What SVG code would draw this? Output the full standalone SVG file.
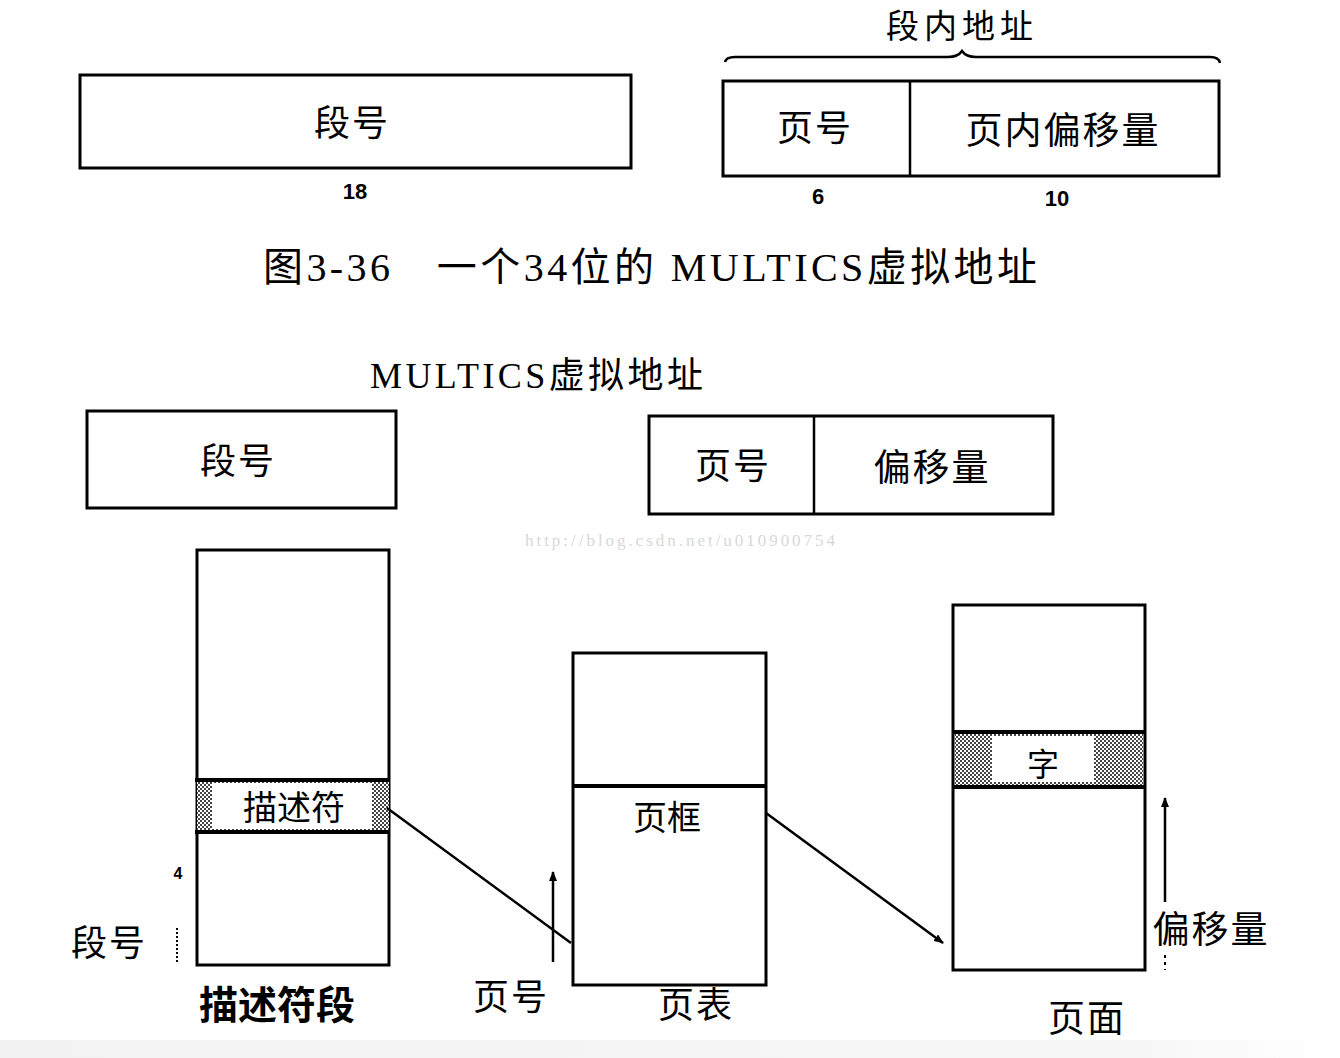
<svg xmlns="http://www.w3.org/2000/svg" width="1340" height="1058" viewBox="0 0 1340 1058">
<defs>
<pattern id="hatch" width="4" height="4" patternUnits="userSpaceOnUse">
<rect width="4" height="4" fill="#fff"/>
<rect width="2" height="2" fill="#444"/>
<rect x="2" y="2" width="2" height="2" fill="#444"/>
</pattern>
<marker id="ah" markerWidth="10" markerHeight="8" refX="9" refY="4" orient="auto" markerUnits="userSpaceOnUse">
<path d="M0,0 L10,4 L0,8 Z" fill="#000"/>
</marker>
<linearGradient id="bg" x1="0" y1="0" x2="1" y2="0">
<stop offset="0" stop-color="#f2f2f2"/>
<stop offset="0.85" stop-color="#f7f7f7"/>
<stop offset="1" stop-color="#ffffff"/>
</linearGradient>
</defs>
<style>
.box{fill:#fff;stroke:#000;stroke-width:3}
.thick{stroke:#000;stroke-width:4}
.ln{stroke:#000;stroke-width:2.5;fill:none}
.cjk{font-family:"Noto Sans CJK SC","Noto Sans CJK JP",sans-serif;fill:#000;text-anchor:middle}
.num{font-family:"Liberation Sans",Arial,sans-serif;font-weight:bold;fill:#000;text-anchor:middle}
.cap{font-family:"Liberation Serif","Noto Sans CJK SC",serif;fill:#000}
.wm{font-family:"Liberation Serif",serif;fill:#d8d8d8;font-size:17px}
</style>
<rect width="1340" height="1058" fill="#fff"/>
<rect x="0" y="1040" width="1340" height="18" fill="url(#bg)"/>

<g id="top-segno">
<rect class="box" x="80" y="75" width="551" height="93"/>
<text class="cjk" x="352" y="136" font-size="36" letter-spacing="2">段号</text>
<text class="num" x="355" y="199" font-size="22">18</text>
</g>

<g id="top-brace">
<path class="ln" d="M725,62 Q726,57 735,57 L948,57 Q958,57 962,51 Q966,57 976,57 L1210,57 Q1219,57 1220,63" stroke-width="2"/>
<text class="cjk" x="962" y="38" font-size="33" letter-spacing="5">段内地址</text>
</g>

<g id="top-pageaddr">
<rect class="box" x="723" y="81" width="496" height="95"/>
<line class="ln" x1="910" y1="81" x2="910" y2="176" stroke-width="3"/>
<text class="cjk" x="815" y="141" font-size="36" letter-spacing="2">页号</text>
<text class="cjk" x="1063" y="144" font-size="37" letter-spacing="2">页内偏移量</text>
<text class="num" x="818" y="204" font-size="22">6</text>
<text class="num" x="1057" y="206" font-size="22">10</text>
</g>

<g id="caption">
<text class="cap" x="263" y="281" font-size="40" textLength="774" lengthAdjust="spacing">图3-36　一个34位的 MULTICS虚拟地址</text>
</g>

<g id="title2">
<text class="cap" x="370" y="388" font-size="36" textLength="333" lengthAdjust="spacing">MULTICS虚拟地址</text>
</g>

<g id="va-seg">
<rect class="box" x="87" y="411" width="309" height="97"/>
<text class="cjk" x="238" y="474" font-size="36" letter-spacing="2">段号</text>
</g>

<g id="va-page">
<rect class="box" x="649" y="416" width="404" height="98"/>
<line class="ln" x1="814" y1="416" x2="814" y2="514" stroke-width="2.5"/>
<text class="cjk" x="733" y="479" font-size="36" letter-spacing="2">页号</text>
<text class="cjk" x="932" y="481" font-size="37" letter-spacing="2">偏移量</text>
</g>

<text class="wm" x="525" y="546" textLength="310" lengthAdjust="spacing">http://blog.csdn.net/u010900754</text>

<g id="descriptor-segment">
<rect class="box" x="197" y="550" width="192" height="415"/>
<rect x="197" y="780" width="192" height="52" fill="url(#hatch)"/>
<rect x="212" y="783" width="160" height="46" fill="#fff"/>
<line class="thick" x1="195" y1="780" x2="389" y2="780"/>
<line class="thick" x1="195" y1="832" x2="389" y2="832"/>
<text class="cjk" x="294" y="820" font-size="34">描述符</text>
<text class="cjk" x="277" y="1019" font-size="39" font-weight="bold">描述符段</text>
</g>

<g id="seg-index">
<text class="num" x="178" y="879" font-size="16">4</text>
<line x1="177" y1="928" x2="177" y2="962" stroke="#000" stroke-width="2" stroke-dasharray="2,2"/>
<text class="cjk" x="109" y="956" font-size="36" letter-spacing="2">段号</text>
</g>

<g id="page-table">
<rect class="box" x="573" y="653" width="193" height="332"/>
<line class="thick" x1="573" y1="786" x2="766" y2="786"/>
<text class="cjk" x="667" y="830" font-size="34">页框</text>
<text class="cjk" x="696" y="1018" font-size="36" letter-spacing="2">页表</text>
</g>

<g id="page">
<rect class="box" x="953" y="605" width="192" height="365"/>
<rect x="955" y="732" width="188" height="54" fill="url(#hatch)"/>
<rect x="992" y="736" width="102" height="46" fill="#fff"/>
<line class="thick" x1="953" y1="732" x2="1145" y2="732"/>
<line class="thick" x1="953" y1="787" x2="1145" y2="787"/>
<text class="cjk" x="1043" y="776" font-size="32">字</text>
<text class="cjk" x="1087" y="1032" font-size="37" letter-spacing="2">页面</text>
</g>

<g id="connectors">
<line class="ln" x1="387" y1="808" x2="571" y2="943"/>
<line class="ln" x1="553" y1="962" x2="553" y2="872" marker-end="url(#ah)"/>
<text class="cjk" x="511" y="1010" font-size="36" letter-spacing="2">页号</text>
<line class="ln" x1="766" y1="813" x2="943" y2="943" marker-end="url(#ah)"/>
<line class="ln" x1="1165" y1="902" x2="1165" y2="798" marker-end="url(#ah)"/>
<line x1="1165" y1="955" x2="1165" y2="970" stroke="#000" stroke-width="2" stroke-dasharray="3,4"/>
<text class="cjk" x="1211" y="943" font-size="37" letter-spacing="2">偏移量</text>
</g>
</svg>
